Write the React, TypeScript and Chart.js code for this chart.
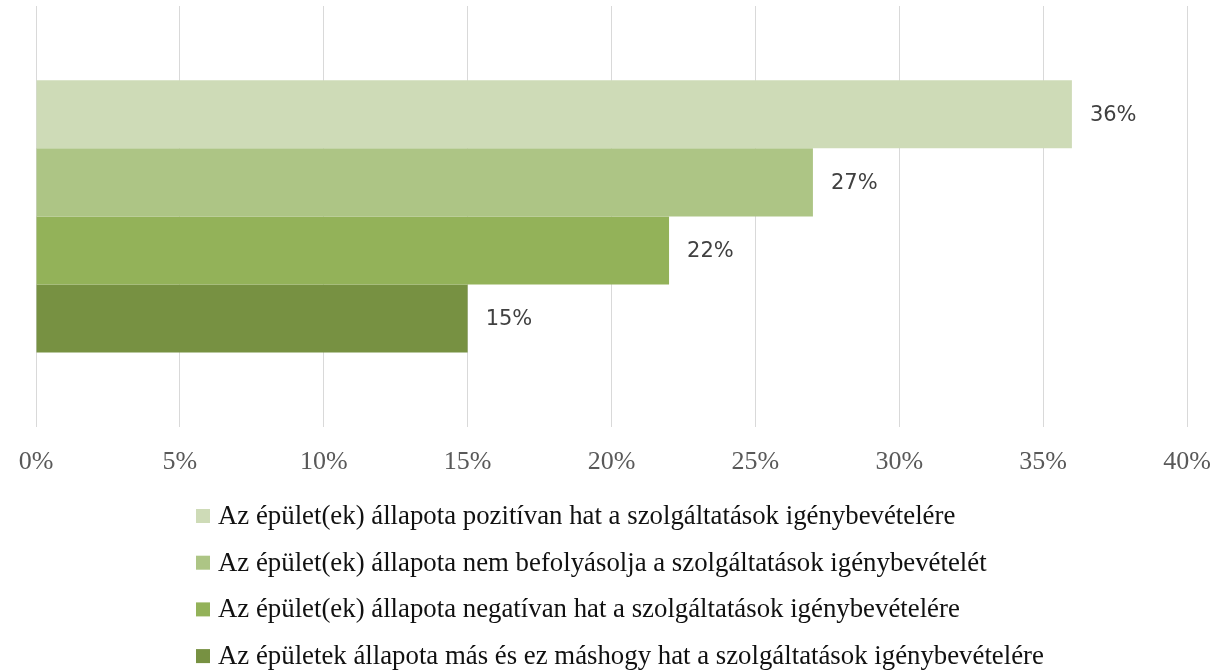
import React, { useEffect, useRef } from "react";
import { Chart, registerables } from "chart.js";

Chart.register(...registerables);

const categories: string[] = [""];
const seriesLabels: string[] = [
  "Az épület(ek) állapota pozitívan hat a szolgáltatások igénybevételére",
  "Az épület(ek) állapota nem befolyásolja a szolgáltatások igénybevételét",
  "Az épület(ek) állapota negatívan hat a szolgáltatások igénybevételére",
  "Az épületek állapota más és ez máshogy hat a szolgáltatások igénybevételére",
];
const seriesValues: number[] = [36, 27, 22, 15];
const seriesColors: string[] = ["#CEDBB7", "#ADC585", "#93B259", "#779142"];
const xTickMin = 0;
const xTickMax = 40;
const xTickStep = 5;

const valueLabelPlugin = {
  id: "valueLabels",
  afterDatasetsDraw(chart: any) {
    const ctx = chart.ctx;
    ctx.save();
    ctx.font = "21px 'DejaVu Sans'";
    ctx.fillStyle = "#404040";
    ctx.textAlign = "left";
    ctx.textBaseline = "middle";
    chart.data.datasets.forEach((ds: any, i: number) => {
      const meta = chart.getDatasetMeta(i);
      meta.data.forEach((bar: any, j: number) => {
        const v = ds.data[j];
        ctx.fillText(v + "%", bar.x + 18, bar.y + 1);
      });
    });
    ctx.restore();
  },
};

const bottomLegendPlugin = {
  id: "bottomLegend",
  afterDraw(chart: any) {
    const ctx = chart.ctx;
    ctx.save();
    ctx.font = "26.8px 'Liberation Serif'";
    ctx.textAlign = "left";
    ctx.textBaseline = "middle";
    const x0 = 196;
    const y0 = 516;
    const rowGap = 46.7;
    const box = 14;
    chart.data.datasets.forEach((ds: any, i: number) => {
      const cy = y0 + i * rowGap;
      ctx.fillStyle = ds.backgroundColor;
      ctx.fillRect(x0, cy - box / 2, box, box);
      ctx.fillStyle = "#111111";
      ctx.fillText(ds.label, x0 + 22, cy + 1);
    });
    ctx.restore();
  },
};

export default function App() {
  const canvasRef = useRef<HTMLCanvasElement | null>(null);

  useEffect(() => {
    if (!canvasRef.current) return;
    const chart = new Chart(canvasRef.current, {
      type: "bar",
      data: {
        labels: categories,
        datasets: seriesLabels.map((label, i) => ({
          label,
          data: [seriesValues[i]],
          backgroundColor: seriesColors[i],
          borderWidth: 0,
          categoryPercentage: 0.647,
          barPercentage: 1,
        })),
      },
      options: {
        indexAxis: "y",
        responsive: false,
        animation: false,
        layout: {
          padding: { top: 6, left: 36, right: 37, bottom: 192 },
        },
        plugins: {
          legend: { display: false },
          tooltip: { enabled: false },
        },
        scales: {
          x: {
            min: xTickMin,
            max: xTickMax,
            ticks: {
              stepSize: xTickStep,
              padding: 2,
              color: "#595959",
              font: { family: "'Liberation Serif'", size: 26 },
              callback: (v: any) => v + "%",
            },
            grid: {
              color: "#D9D9D9",
              lineWidth: 1,
              drawTicks: true,
              tickLength: 18,
              tickColor: "rgba(0,0,0,0)",
            },
            border: { display: false },
          },
          y: {
            display: false,
          },
        },
      },
      plugins: [valueLabelPlugin, bottomLegendPlugin],
    });
    return () => chart.destroy();
  }, []);

  return (
    <div style={{ position: "absolute", left: 0, top: 0, width: 1224, height: 672, background: "#ffffff" }}>
      <canvas ref={canvasRef} width={1224} height={672} />
    </div>
  );
}
